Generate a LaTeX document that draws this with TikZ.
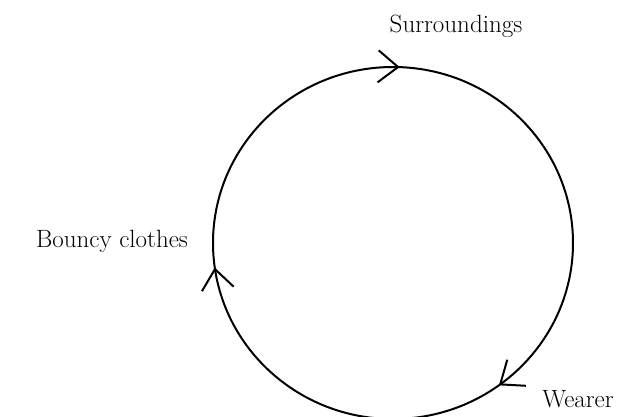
\documentclass[tikz,border=0pt]{standalone}
\usetikzlibrary{arrows.meta,decorations.markings}
\tikzset{
  lbl/.style={font=\fontsize{25}{28}\selectfont, inner sep=0pt, anchor=base},
  barb/.style={Straight Barb[length=20pt,width=32pt,line width=2pt]},
  loop/.style={line width=2pt, postaction={decorate}, decoration={markings,
    mark=at position 0.244 with {\arrowreversed{Straight Barb[length=20pt,width=32pt,line width=2pt]}},
    mark=at position 0.522 with {\arrowreversed{Straight Barb[length=20pt,width=32pt,line width=2pt]}},
    mark=at position 0.851 with {\arrowreversed{Straight Barb[length=20pt,width=32pt,line width=2pt]}}}}
}
\begin{document}
\begin{tikzpicture}[x=1pt,y=1pt]
\useasboundingbox (0,0) rectangle (643,416);
\begin{scope}
\clip (0,0) rectangle (643,416);
\draw[loop] (393,173) ellipse [x radius=180, y radius=176];
\end{scope}
\node[lbl] (sur) at (456,383) {Surroundings};
\node[lbl] (bou) at (112,169) {Bouncy clothes};
\node[lbl] (wea) at (578,9) {Wearer};
\end{tikzpicture}
\end{document}
